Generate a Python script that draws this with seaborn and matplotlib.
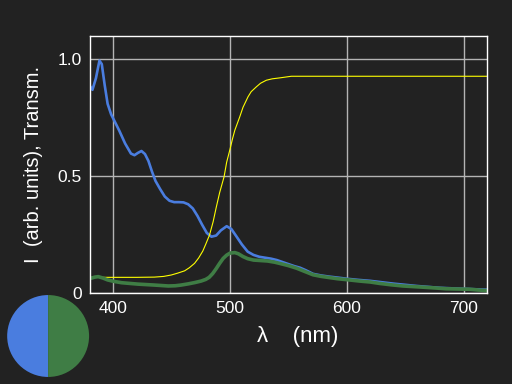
import numpy as np
import pandas as pd
import matplotlib
matplotlib.use('Agg')
import matplotlib.pyplot as plt
import seaborn as sns

# Emission spectra (arb. units) and filter transmission
wl_blue = [380, 382, 385, 388, 390, 392.5, 395, 398, 401, 405, 410, 415, 418, 421,
           424, 427, 430, 433, 436, 440, 444, 448, 452, 456, 460, 464, 468, 472,
           476, 480, 484, 488, 492, 497, 501, 505, 510, 515, 520, 525, 530, 535,
           540, 548, 555, 560, 565, 571, 578, 585, 592, 600, 610, 620, 630, 640,
           650, 660, 670, 680, 690, 700, 710, 720]
i_blue = [0.885, 0.87, 0.92, 0.995, 0.98, 0.89, 0.81, 0.765, 0.735, 0.695, 0.64,
          0.597, 0.59, 0.600, 0.608, 0.595, 0.565, 0.52, 0.48, 0.445, 0.413, 0.395,
          0.389, 0.389, 0.388, 0.380, 0.362, 0.330, 0.292, 0.257, 0.241, 0.246,
          0.268, 0.286, 0.274, 0.245, 0.208, 0.177, 0.163, 0.155, 0.151, 0.147,
          0.141, 0.127, 0.115, 0.108, 0.097, 0.082, 0.075, 0.070, 0.066, 0.061,
          0.056, 0.052, 0.046, 0.040, 0.035, 0.030, 0.026, 0.022, 0.020, 0.018,
          0.016, 0.014]

wl_green = [380, 384, 387, 391, 395, 400, 407, 414, 421, 428, 435, 441, 447, 453,
            458, 464, 470, 475, 479, 482, 485, 488, 491, 494, 497, 500, 504, 507,
            511, 515, 520, 526, 532, 538, 543, 550, 557, 564, 571, 578, 585, 592,
            600, 611, 620, 628, 638, 648, 658, 668, 677, 685, 695, 705, 712, 720]
i_green = [0.062, 0.068, 0.070, 0.064, 0.056, 0.050, 0.044, 0.041, 0.038, 0.036,
           0.034, 0.032, 0.030, 0.031, 0.034, 0.039, 0.045, 0.051, 0.058, 0.067,
           0.083, 0.104, 0.127, 0.148, 0.162, 0.171, 0.173, 0.168, 0.156, 0.147,
           0.141, 0.139, 0.137, 0.132, 0.126, 0.117, 0.106, 0.092, 0.078, 0.071,
           0.066, 0.061, 0.057, 0.051, 0.047, 0.041, 0.035, 0.030, 0.027, 0.024,
           0.021, 0.018, 0.017, 0.016, 0.013, 0.010]

wl_trans = [380, 400, 420, 435, 443, 449.5, 455, 461, 465, 469.5, 473, 476.6, 479,
            482.3, 485.4, 488, 491, 494.8, 497, 499.7, 502, 504, 508.2, 511, 515.3,
            518, 522.5, 526, 531, 536, 542.4, 552.4, 600, 650, 720]
trans = [0.067, 0.067, 0.067, 0.068, 0.071, 0.077, 0.085, 0.095, 0.108, 0.127,
         0.150, 0.180, 0.208, 0.248, 0.305, 0.365, 0.43, 0.498, 0.56, 0.612, 0.66,
         0.697, 0.754, 0.795, 0.84, 0.862, 0.883, 0.898, 0.911, 0.917, 0.921, 0.928,
         0.928, 0.928, 0.928]

x_ticks = [400, 500, 600, 700]
y_ticks = [0, 0.5, 1.0]
y_ticklabels = ['0', '0.5', '1.0']

bg = '#222222'
blue = '#4a7ddf'
green = '#3f7d45'

sns.set_style('dark', {'axes.facecolor': bg, 'figure.facecolor': bg,
                       'axes.edgecolor': 'white', 'grid.color': '#b4b4b4',
                       'text.color': 'white', 'xtick.color': 'white',
                       'ytick.color': 'white', 'axes.labelcolor': 'white'})
plt.rcParams['font.family'] = ['Liberation Sans', 'DejaVu Sans']

fig = plt.figure(figsize=(5.12, 3.84), dpi=100)
ax = fig.add_axes([0.176, 0.237, 0.775, 0.669])

df_b = pd.DataFrame({'wl': wl_blue, 'I': i_blue})
df_g = pd.DataFrame({'wl': wl_green, 'I': i_green})
df_t = pd.DataFrame({'wl': wl_trans, 'T': trans})

sns.lineplot(data=df_b, x='wl', y='I', color=blue, lw=1.9, ax=ax)
sns.lineplot(data=df_t, x='wl', y='T', color='#ffff00', lw=0.8, ax=ax)
sns.lineplot(data=df_g, x='wl', y='I', color=green, lw=2.6, ax=ax)

ax.set_xlim(380, 720)
ax.set_ylim(0, 1.1)
ax.set_xticks(x_ticks)
ax.set_yticks(y_ticks)
ax.set_yticklabels(y_ticklabels)
ax.tick_params(length=0, labelsize=12.5, pad=6)
ax.grid(True, color='#b4b4b4', lw=1)
for s in ax.spines.values():
    s.set_color('white')
    s.set_linewidth(1)
ax.set_xlabel('λ    (nm)', fontsize=16)
ax.xaxis.set_label_coords(0.522, -0.128)
ax.set_ylabel('I  (arb. units), Transm.', fontsize=14.5)
ax.yaxis.set_label_coords(-0.118, 0.5)

# colour key circle at bottom left
pax = fig.add_axes([0.014, 0.018, 0.16, 0.214])
pax.pie([1, 1], colors=[blue, green], startangle=90,
        wedgeprops={'linewidth': 0, 'edgecolor': 'none'})
pax.set_xlim(-1, 1)
pax.set_ylim(-1, 1)
pax.set_aspect('equal')
pax.axis('off')

fig.savefig('out.png', dpi=100, facecolor=bg)
